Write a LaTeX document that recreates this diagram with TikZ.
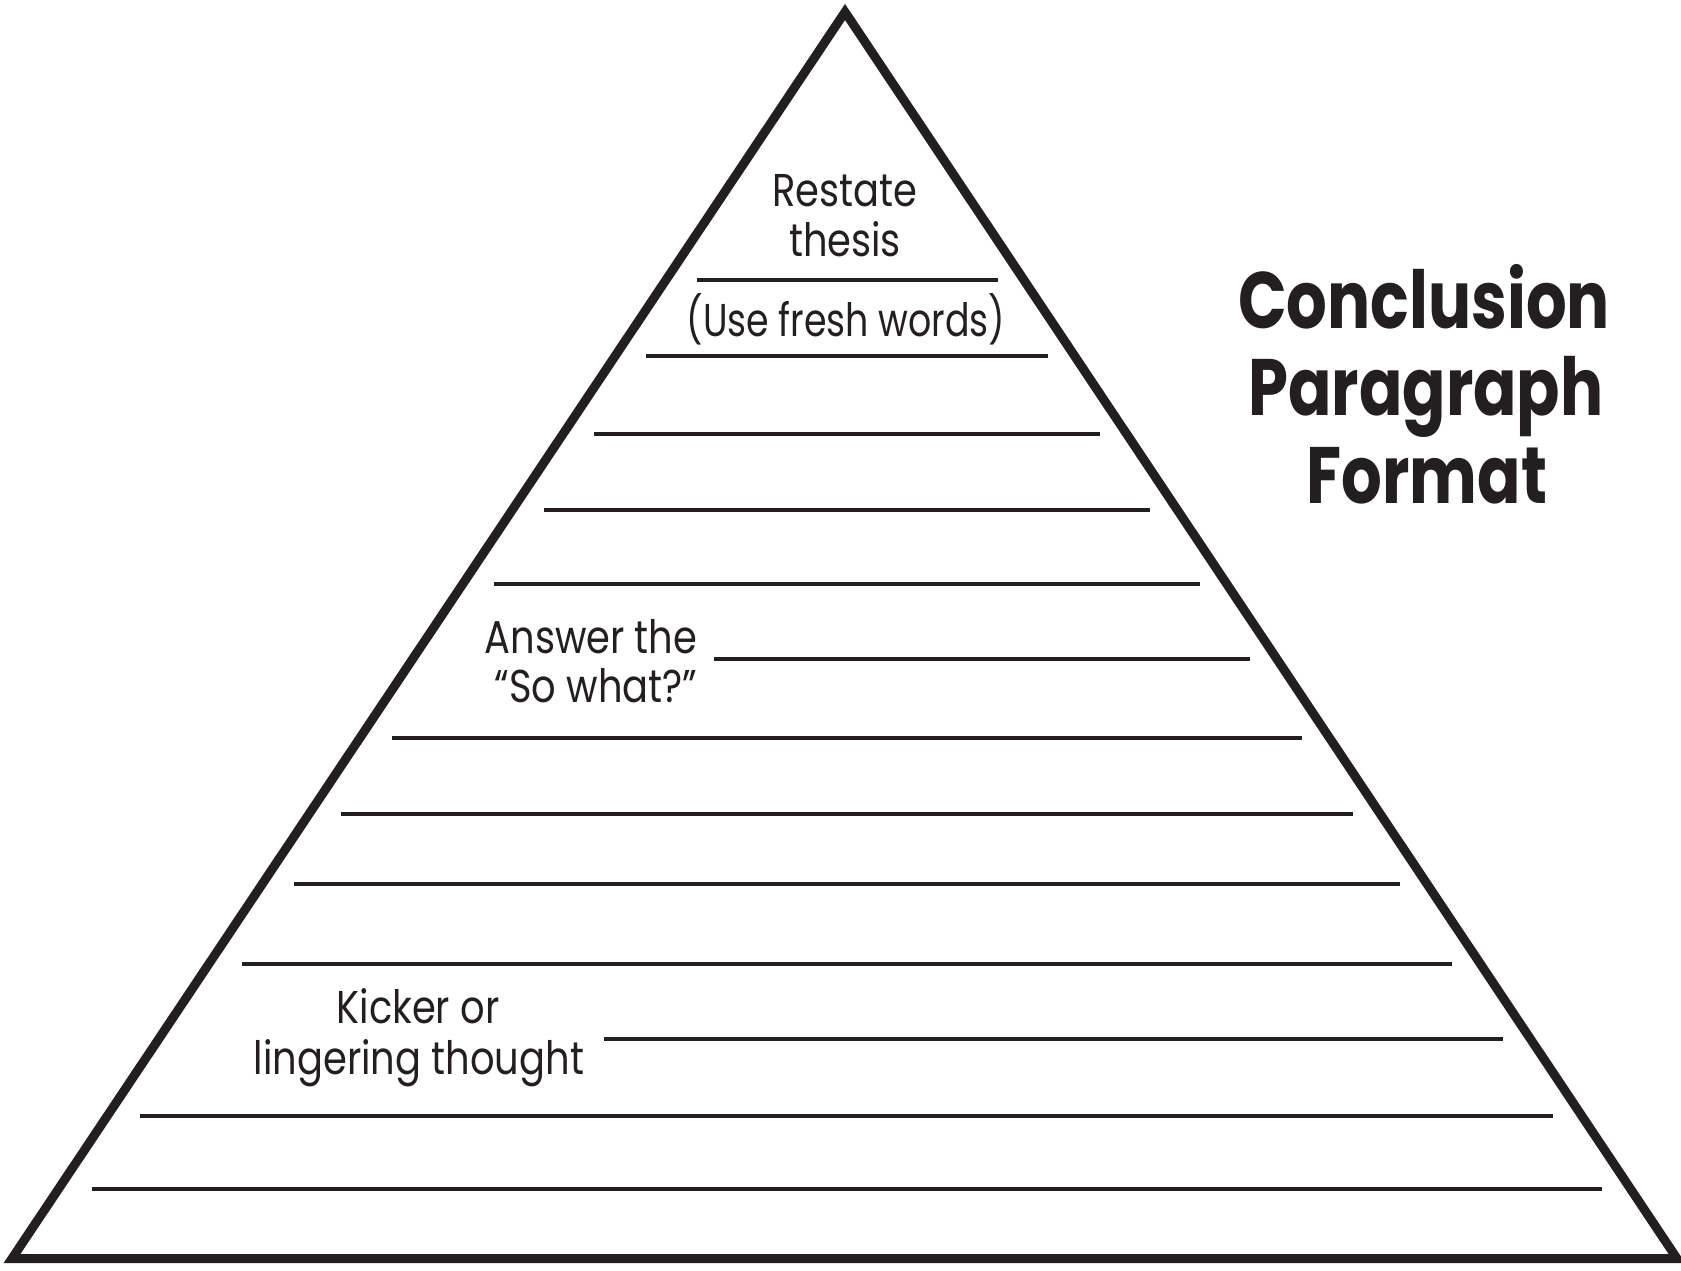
\documentclass[tikz,border=0pt]{standalone}
\usepackage{fontspec}
\newfontfamily\bodyfont[FakeStretch=0.835]{Poppins}
\newfontfamily\freshfont[FakeStretch=0.79]{Poppins}
\newfontfamily\titlefont[FakeStretch=0.8]{Poppins}
\definecolor{ink}{HTML}{231F20}
\begin{document}
\begin{tikzpicture}[x=1pt,y=-1pt,
  edge/.style={draw=ink, line width=9pt, line join=miter},
  rule/.style={draw=ink, line width=4.7pt},
  body/.style={text=ink, font=\bodyfont\fontsize{46}{48}\selectfont, inner sep=0pt, anchor=base},
  ttl/.style={text=ink, font=\titlefont\bfseries\fontsize{80}{88}\selectfont, inner sep=0pt, anchor=base}]
\useasboundingbox (0,0) rectangle (1681,1270);
\coordinate (apex) at (845,12);
\coordinate (bl) at (12,1258.5);
\coordinate (br) at (1677,1258.5);
\draw[edge] (apex) -- (bl) -- (br) -- cycle;
\foreach \n/\y/\a/\b in {1/280/697/998, 2/356/646/1048, 3/434/594/1100, 4/510/544/1150,
  5/584/494/1200, 6/659/714/1250, 7/738/392/1302, 8/814/341/1353, 9/884/294/1400,
  10/964/242/1452, 11/1039/604/1503, 12/1116/140/1553, 13/1189/92/1602}{
  \coordinate (r\n a) at (\a,\y);
  \coordinate (r\n b) at (\b,\y);
  \draw[rule] (r\n a) -- (r\n b);
}
\node[body] (restate) at (845,206) {Restate};
\node[body] (thesis) at (845,256) {thesis};
\node[body, font=\freshfont\fontsize{46}{48}\selectfont] (fresh) at (846,336) {(Use fresh words)};
\node[body] (answer) at (591,653) {Answer the};
\node[body] (sowhat) at (596,702) {“So what?”};
\node[body] (kicker) at (418,1023) {Kicker or};
\node[body] (linger) at (419,1074) {lingering thought};
\node[ttl] (t1) at (1424,328) {Conclusion};
\node[ttl] (t2) at (1426,415) {Paragraph};
\node[ttl] (t3) at (1427,503) {Format};
\end{tikzpicture}
\end{document}
